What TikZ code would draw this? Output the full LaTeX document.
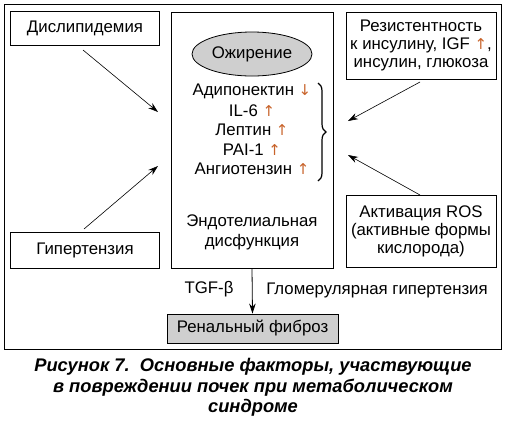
\documentclass[tikz,border=0pt]{standalone}
\usepackage{fontspec}
\setmainfont{Liberation Sans}
\newfontfamily\arrfont{DejaVu Sans}
\usetikzlibrary{arrows.meta,decorations.pathreplacing,shapes.geometric}
\definecolor{arr}{HTML}{C8632A}
\definecolor{boxgray}{HTML}{CFCFCF}
\newcommand{\uparr}{\textcolor{arr}{\arrfont\fontsize{15}{17}\selectfont ↑}}
\newcommand{\dnarr}{\textcolor{arr}{\arrfont\fontsize{15}{17}\selectfont ↓}}
\begin{document}
\begin{tikzpicture}[x=1pt,y=-1pt,
  every node/.style={font=\fontsize{16.8}{19}\selectfont, inner sep=0pt},
  frame/.style={draw, line width=0.8pt},
  fbox/.style={draw, line width=0.8pt, align=center},
  link/.style={line width=0.6pt, -{Stealth[length=10pt,width=6.5pt]}},
  captext/.style={font=\fontsize{18.3}{20.5}\selectfont\bfseries\itshape, align=center}]
\useasboundingbox (0,0) rectangle (506,424);
\draw[frame] (4.5,4.5) rectangle (501.5,349);
\node[fbox, minimum width=149pt, minimum height=34pt] (dys) at (85,28.5) {Дислипидемия};
\node[fbox, minimum width=149pt, minimum height=36pt] (hyp) at (85,250) {Гипертензия};
\node[fbox, minimum width=162pt, minimum height=256pt] (endo) at (252,140) {};
\node[fbox, minimum width=150pt, minimum height=67pt] (res) at (421,45.5) {Резистентность\\[-1pt]к инсулину, IGF \uparr,\\[-1pt]инсулин, глюкоза};
\node[fbox, minimum width=150pt, minimum height=72pt] (ros) at (421,231) {Активация ROS\\[-1pt](активные формы\\[-1pt]кислорода)};
\node[draw, line width=0.8pt, fill=boxgray, ellipse, minimum width=120pt, minimum height=44pt] (obe) at (252,54) {Ожирение};
\node (l1) at (252,91) {Адипонектин \dnarr};
\node (l2) at (252,110.5) {IL-6 \uparr};
\node (l3) at (252,130) {Лептин \uparr};
\node (l4) at (252,149.5) {PAI-1 \uparr};
\node (l5) at (252,169) {Ангиотензин \uparr};
\draw[line width=1.2pt, decorate, decoration={brace, amplitude=8pt}] (318,83) -- (318,181);
\node[align=center] (ed) at (252,232) {Эндотелиальная\\[1pt]дисфункция};
\node[fbox, fill=boxgray, minimum width=171pt, minimum height=29pt] (fib) at (252.5,328.5) {Ренальный фиброз};
\node (tgf) at (209,289) {TGF-β};
\node (glom) at (377,290) {Гломерулярная гипертензия};
\coordinate (a1s) at (83,50);
\coordinate (a1e) at (158,112);
\coordinate (a2s) at (84,229);
\coordinate (a2e) at (158,166);
\coordinate (a3s) at (420,82);
\coordinate (a3e) at (348,121);
\coordinate (a4s) at (420,195);
\coordinate (a4e) at (348,155);
\draw[link] (a1s) -- (a1e);
\draw[link] (a2s) -- (a2e);
\draw[link] (a3s) -- (a3e);
\draw[link] (a4s) -- (a4e);
\draw[link, line width=0.8pt] (endo.south) -- (fib.north);
\node[captext] (caption) at (253,387.5) {Рисунок 7.\ \ Основные факторы, участвующие\\в повреждении почек при метаболическом\\синдроме};
\end{tikzpicture}
\end{document}
